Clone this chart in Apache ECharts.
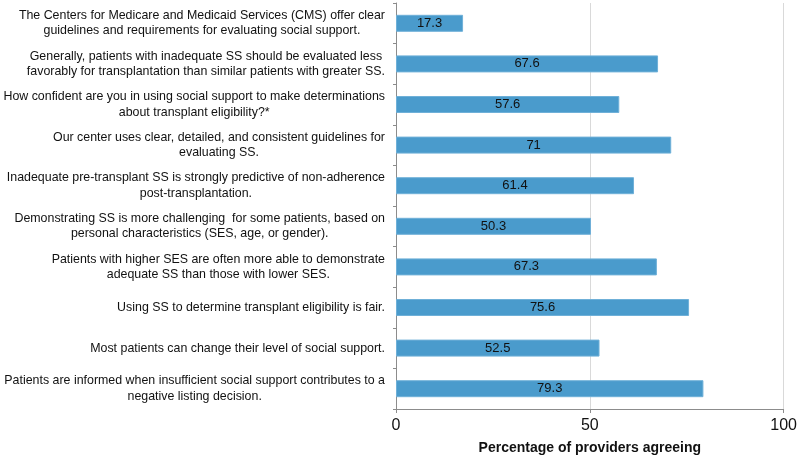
<!DOCTYPE html>
<html>
<head>
<meta charset="utf-8">
<script src="https://cdn.jsdelivr.net/npm/echarts@6/dist/echarts.min.js"></script>
<style>html,body{margin:0;padding:0;background:#fff}#c{width:800px;height:460px}</style>
</head>
<body>
<div id="c"></div>
<script>
var categories = [
  "The Centers for Medicare and Medicaid Services (CMS) offer clear\nguidelines and requirements for evaluating social support.",
  "Generally, patients with inadequate SS should be evaluated less\nfavorably for transplantation than similar patients with greater SS.",
  "How confident are you in using social support to make determinations\nabout transplant eligibility?*",
  "Our center uses clear, detailed, and consistent guidelines for\nevaluating SS.",
  "Inadequate pre-transplant SS is strongly predictive of non-adherence\npost-transplantation.",
  "Demonstrating SS is more challenging  for some patients, based on\npersonal characteristics (SES, age, or gender).",
  "Patients with higher SES are often more able to demonstrate\nadequate SS than those with lower SES.",
  "Using SS to determine transplant eligibility is fair.",
  "Most patients can change their level of social support.",
  "Patients are informed when insufficient social support contributes to a\nnegative listing decision."
];
var values = [17.3, 67.6, 57.6, 71, 61.4, 50.3, 67.3, 75.6, 52.5, 79.3];
var xTicks = [0, 50, 100];
var xAxisTitle = "Percentage of providers agreeing";

var FONT = "Liberation Sans, Arial, sans-serif";
var chart = echarts.init(document.getElementById('c'), null, {renderer: 'canvas'});
chart.setOption({
  animation: false,
  backgroundColor: '#fff',
  grid: {left: 396, right: 15.5, top: 3, bottom: 49.5, containLabel: false},
  xAxis: {
    type: 'value', min: xTicks[0], max: xTicks[xTicks.length - 1], interval: 50,
    name: xAxisTitle, nameLocation: 'middle', nameGap: 32,
    nameTextStyle: {fontFamily: FONT, fontSize: 14, fontWeight: 'bold', color: '#111'},
    axisLine: {show: true, lineStyle: {color: '#8c8c8c', width: 1}},
    axisTick: {show: true, length: 4, lineStyle: {color: '#8c8c8c'}},
    axisLabel: {fontFamily: FONT, fontSize: 16, color: '#111', margin: 9},
    splitLine: {show: true, lineStyle: {color: '#d9d9d9', width: 1}}
  },
  yAxis: {
    type: 'category', data: categories, inverse: true,
    axisLine: {show: true, lineStyle: {color: '#8c8c8c', width: 1}},
    axisTick: {show: true, length: 3, inside: false, alignWithLabel: false, lineStyle: {color: '#8c8c8c'}},
    splitLine: {show: false},
    axisLabel: {
      margin: 11, align: 'right', interval: 0,
      formatter: function (v) {
        return v.split('\n').map(function (l) { return '{c|' + l + '}'; }).join('\n');
      },
      rich: {c: {fontFamily: FONT, fontSize: 12.4, color: '#111', align: 'center', lineHeight: 15.5}}
    }
  },
  series: [{
    type: 'bar', data: values, barWidth: 17,
    itemStyle: {color: '#4a9bcc', borderColor: '#6fb0d8', borderWidth: 1},
    label: {show: true, position: 'inside', fontFamily: FONT, fontSize: 13, color: '#111',
      formatter: function (p) { return String(p.value); }}
  }]
});
</script>
</body>
</html>
